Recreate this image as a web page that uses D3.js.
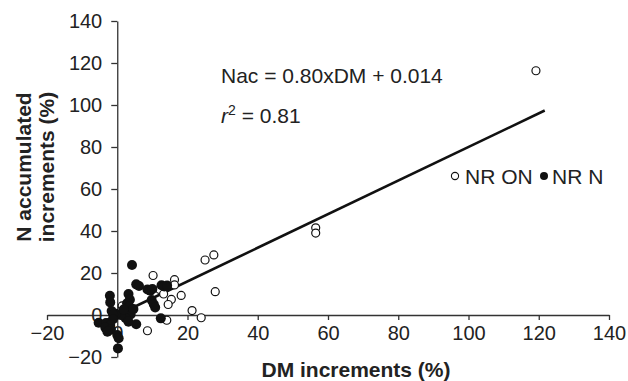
<!DOCTYPE html>
<html>
<head>
<meta charset="utf-8">
<script src="https://cdn.jsdelivr.net/npm/d3@7"></script>
<style>
  html, body { margin: 0; padding: 0; background: #fff; }
  svg { display: block; font-family: "Liberation Sans", Arial, Helvetica, sans-serif; }
</style>
</head>
<body>
<svg id="chart" width="628" height="381"></svg>
<script>
// tick values on both axes
const xTicks = [-20, 0, 20, 40, 60, 80, 100, 120, 140];
const yTicks = [-20, 0, 20, 40, 60, 80, 100, 120, 140];

// NR ON (open circles): [DM increment, N accumulated increment]
const nrOn = [
  [119.2, 116.3], [56.5, 41.5], [56.5, 39.0], [27.5, 28.6], [25.0, 26.2],
  [27.9, 11.1], [23.9, -1.3], [21.3, 2.1], [18.2, 9.3], [16.3, 16.8],
  [16.3, 14.3], [10.2, 18.8], [12.1, 12.2], [13.2, 10.0], [15.4, 7.4],
  [14.5, 5.0], [14.1, -2.5], [8.6, -7.5], [1.4, 4.3]
];

// NR N (filled circles)
const nrN = [
  [4.2, 23.8], [5.4, 14.6], [6.2, 13.8], [8.6, 12.2], [9.4, 11.6],
  [10.0, 12.4], [12.6, 14.2], [13.4, 13.6], [14.2, 14.0], [9.8, 7.1],
  [10.4, 5.1], [10.8, 3.6], [12.4, -1.6], [5.4, -4.4], [3.2, 10.0],
  [3.6, 7.3], [2.8, 5.6], [3.4, 4.0], [2.6, 1.8], [3.8, 0.2],
  [2.4, -1.5], [3.2, -3.2], [0.9, 0.0], [-0.4, 0.6], [-2.1, 9.2],
  [-2.0, 6.0], [-1.6, 1.9], [-1.2, 0.3], [-1.2, -2.0], [-5.3, -3.7],
  [-3.2, -3.8], [-2.0, -4.8], [-3.4, -6.0], [-1.8, -7.0], [-2.8, -8.0],
  [0.0, -9.5], [0.4, -11.1], [0.2, -15.9], [4.6, 2.8], [1.8, 2.6]
];

// fitted line Nac = 0.80 x DM + 0.014, drawn over this DM range
const fitSlope = 0.80;
const fitIntercept = 0.014;
const fitRange = [-5.5, 121.7];

const svg = d3.select("#chart");

const x = d3.scaleLinear().domain([-20, 140]).range([47, 609]);
const y = d3.scaleLinear().domain([-20, 140]).range([357, 21]);

const fmt = d3.format("");

// axes cross at the origin
const xAxisG = svg.append("g")
  .attr("transform", `translate(0,${y(0)})`)
  .call(d3.axisBottom(x).tickValues(xTicks).tickSize(5).tickSizeOuter(0).tickPadding(6).tickFormat(fmt));

const yAxisG = svg.append("g")
  .attr("transform", `translate(${x(0)},0)`)
  .call(d3.axisLeft(y).tickValues(yTicks).tickSize(6).tickSizeOuter(0).tickPadding(9).tickFormat(fmt));

[xAxisG, yAxisG].forEach(g => {
  g.select(".domain").attr("stroke", "#333").attr("stroke-width", 1.3);
  g.selectAll(".tick line").attr("stroke", "#333").attr("stroke-width", 1.3);
  g.selectAll(".tick text")
    .attr("fill", "#222")
    .style("font-size", "20px")
    .style("font-family", "'Liberation Sans', Arial, sans-serif");
});

// regression line
const line = d3.line()
  .x(d => x(d))
  .y(d => y(fitSlope * d + fitIntercept));

svg.append("path")
  .datum(fitRange)
  .attr("d", line)
  .attr("fill", "none")
  .attr("stroke", "#111")
  .attr("stroke-width", 2.6);

// open circles
svg.append("g").selectAll("circle")
  .data(nrOn)
  .join("circle")
  .attr("cx", d => x(d[0]))
  .attr("cy", d => y(d[1]))
  .attr("r", 4)
  .attr("fill", "#fff")
  .attr("stroke", "#111")
  .attr("stroke-width", 1.2);

// filled circles
svg.append("g").selectAll("circle")
  .data(nrN)
  .join("circle")
  .attr("cx", d => x(d[0]))
  .attr("cy", d => y(d[1]))
  .attr("r", 5)
  .attr("fill", "#111");

// equation + r2
svg.append("text")
  .attr("x", 221).attr("y", 83)
  .style("font-size", "21px")
  .attr("fill", "#222")
  .text("Nac = 0.80xDM + 0.014");

const r2 = svg.append("text")
  .attr("x", 221).attr("y", 123)
  .style("font-size", "21px")
  .attr("fill", "#222");
r2.append("tspan").style("font-style", "italic").text("r");
r2.append("tspan").attr("dy", -8).style("font-size", "14px").text("2");
r2.append("tspan").attr("dy", 8).text(" = 0.81");

// legend
const legend = svg.append("g").attr("transform", "translate(455,176)");
legend.append("circle").attr("cx", 0).attr("cy", 0).attr("r", 3.6)
  .attr("fill", "#fff").attr("stroke", "#111").attr("stroke-width", 1.1);
legend.append("text").attr("x", 10).attr("y", 7.5)
  .style("font-size", "21px").attr("fill", "#222").text("NR ON");
legend.append("circle").attr("cx", 89).attr("cy", 0).attr("r", 4)
  .attr("fill", "#111");
legend.append("text").attr("x", 97).attr("y", 7.5)
  .style("font-size", "21px").attr("fill", "#222").text("NR N");

// axis titles
svg.append("text")
  .attr("x", 356).attr("y", 377)
  .attr("text-anchor", "middle")
  .style("font-size", "21px")
  .style("font-weight", "bold")
  .attr("fill", "#222")
  .text("DM increments (%)");

const yTitle = svg.append("text")
  .attr("transform", "translate(0,167) rotate(-90)")
  .attr("text-anchor", "middle")
  .style("font-size", "21px")
  .style("font-weight", "bold")
  .attr("fill", "#222");
yTitle.append("tspan").attr("x", 0).attr("y", 31).text("N accumulated");
yTitle.append("tspan").attr("x", 0).attr("y", 54).text("increments (%)");
</script>
</body>
</html>
